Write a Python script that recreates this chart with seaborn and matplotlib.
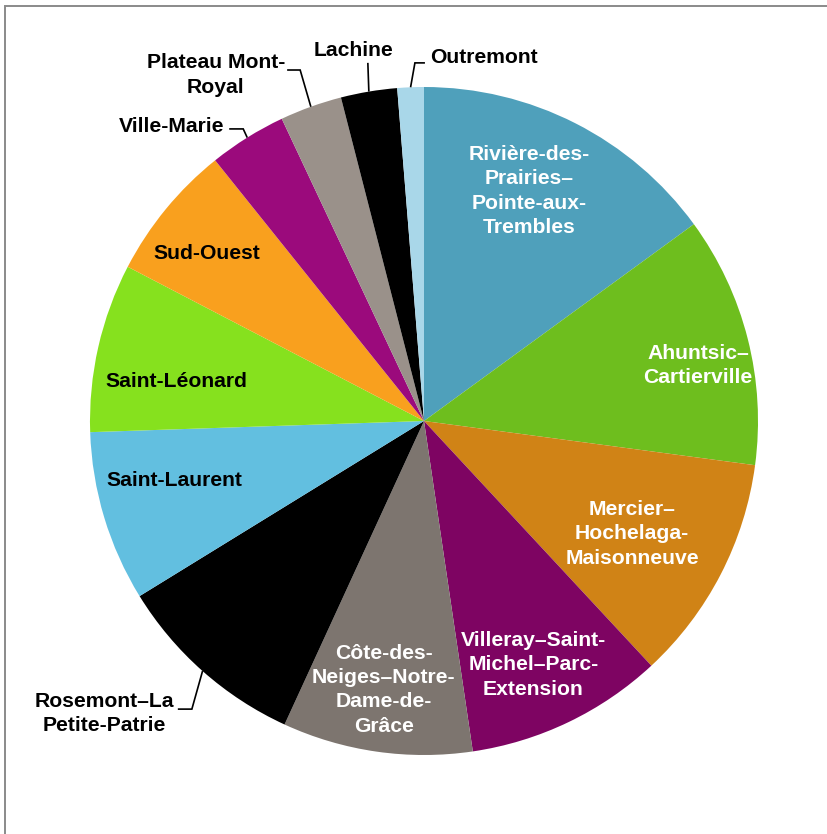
import numpy as np
import matplotlib
matplotlib.use("Agg")
import matplotlib.pyplot as plt
import matplotlib.patches as mpatches
import seaborn as sns

# ---- data ----
boroughs = [
    "Rivière-des-\nPrairies–\nPointe-aux-\nTrembles",
    "Ahuntsic–\nCartierville",
    "Mercier–\nHochelaga-\nMaisonneuve",
    "Villeray–Saint-\nMichel–Parc-\nExtension",
    "Côte-des-\nNeiges–Notre-\nDame-de-\nGrâce",
    "Rosemont–La\nPetite-Patrie",
    "Saint-Laurent",
    "Saint-Léonard",
    "Sud-Ouest",
    "Ville-Marie",
    "Plateau Mont-\nRoyal",
    "Lachine",
    "Outremont",
]
shares = [14.97, 12.14, 10.97, 9.58, 9.19, 9.36, 8.25, 8.17, 6.61, 3.75, 3.00, 2.72, 1.28]
colors = ["#4FA0BB", "#6EBE1E", "#D08316", "#7E0462", "#7D756F", "#000000",
          "#62BFE0", "#86E11E", "#F9A01E", "#9B0A7C", "#9A918A", "#000000", "#A9D7E9"]

# ---- style ----
sns.set_theme(style="white")
plt.rcParams['font.family'] = ['Liberation Sans', 'DejaVu Sans']
palette = sns.color_palette(colors)

W, H, DPI = 828, 834, 100
fig = plt.figure(figsize=(W / DPI, H / DPI), dpi=DPI)
ax = fig.add_axes([0, 0, 1, 1])
ax.set_axis_off()

# pie geometry: centre at (424, 421) px, radius 334 px
cx, cy, R = 424, 421, 334

wedges, _ = ax.pie(shares, colors=palette, startangle=90, counterclock=False,
                   radius=1.0, center=(0, 0), wedgeprops=dict(linewidth=0),
                   frame=False)
ax.set_xlim(-cx / R, (W - cx) / R)
ax.set_ylim(-(H - cy) / R, cy / R)
ax.set_aspect('equal')
ax.set_axis_off()

# mid angles from data
vals = np.array(shares)
cum = np.cumsum(vals) / vals.sum() * 360
starts = 90 - np.concatenate([[0], cum[:-1]])
ends = 90 - cum
mids = (starts + ends) / 2

FS = 15.2
LS = 1.35

# inside labels: (index, radius, angle tweak, colour)
inside = [
    (0, 0.757, 2.4, "white"),
    (1, 0.837, -2.8, "white"),
    (2, 0.709, -1.1, "white"),
    (3, 0.800, -1.5, "white"),
    (4, 0.814, -0.4, "white"),
    (6, 0.769, -3.4, "black"),
    (7, 0.752, 3.8, "black"),
    (8, 0.820, 1.8, "black"),
]
for i, r, dth, c in inside:
    a = np.deg2rad(mids[i] + dth)
    ax.text(r * np.cos(a), r * np.sin(a), boroughs[i], ha='center', va='center',
            color=c, fontsize=FS, fontweight='bold', linespacing=LS,
            multialignment='center')

# outside labels with leader lines
# (index, elbow offset from edge point, end offset from elbow, text pos, ha)
outside = [
    (5, (-0.032, -0.114), (-0.042, 0.0), (-0.958, -0.876), 'center'),
    (9, (-0.012, 0.026), (-0.042, 0.0), (-0.599, 0.882), 'right'),
    (10, (-0.032, 0.110), (-0.039, 0.0), (-0.416, 1.036), 'right'),
    (11, (-0.003, 0.086), (0.0, 0.0), (-0.21, 1.108), 'center'),
    (12, (0.013, 0.073), (0.030, 0.0), (0.018, 1.087), 'left'),
]
for i, el, en, tp, ha in outside:
    a = np.deg2rad(mids[i])
    p0 = np.array([np.cos(a), np.sin(a)])
    p1 = p0 + np.array(el)
    p2 = p1 + np.array(en)
    ax.plot([p0[0], p1[0], p2[0]], [p0[1], p1[1], p2[1]], color='black',
            lw=1.2, solid_joinstyle='miter', solid_capstyle='butt')
    ax.text(tp[0], tp[1], boroughs[i], ha=ha, va='center', color='black',
            fontsize=FS, fontweight='bold', linespacing=LS,
            multialignment='center')

# outer frame
frame = mpatches.Rectangle((5 / W, -0.2), 2.0, 1.2 - 6 / H, transform=fig.transFigure,
                           fill=False, edgecolor='#8a8a8a', lw=1.4)
fig.patches.append(frame)

fig.savefig("out.png", dpi=DPI, facecolor='white')
